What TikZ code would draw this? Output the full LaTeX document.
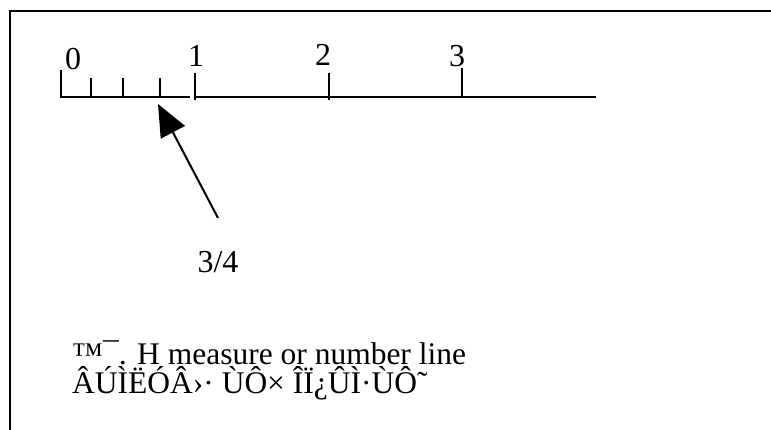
\documentclass[tikz,border=0pt]{standalone}
\usepackage{fontspec}
\setmainfont{Liberation Serif}
\usetikzlibrary{arrows.meta}
\begin{document}
\begin{tikzpicture}[x=1pt,y=-1pt,
  frame/.style={line width=2.2pt},
  axis/.style={line width=2pt},
  lbl/.style={anchor=base,inner sep=0pt,font=\fontsize{32}{32}\selectfont},
  txt/.style={anchor=base west,inner sep=0pt,font=\fontsize{31.5}{31.5}\selectfont}]
\useasboundingbox (0,0) rectangle (771,430);
\draw[frame] (10,430) -- (10,11) -- (771,11);
% axis
\coordinate (a0) at (60,97);
\coordinate (a1) at (190,97);
\coordinate (b0) at (195,97);
\coordinate (b1) at (596,97);
\draw[axis] (a0) -- (a1);
\draw[axis] (b0) -- (b1);
\draw[axis] (61,97) -- (61,70);
\draw[axis] (91,97) -- (91,78);
\draw[axis] (123,97) -- (123,78);
\draw[axis] (160,97) -- (160,78);
\draw[axis] (195,100) -- (195,73);
\draw[axis] (329,100) -- (329,73);
\draw[axis] (462,97) -- (462,68);
\node[lbl] (l0) at (73,70) {0};
\node[lbl] (l1) at (196,67) {1};
\node[lbl] (l2) at (323,66) {2};
\node[lbl] (l3) at (457,67) {3};
% arrow
\node[lbl] (frac) at (218,273) {3/4};
\coordinate (tail) at (218,218);
\coordinate (tip) at (158,104);
\draw[line width=2pt,-{Triangle[length=32pt,width=27pt]}] (tail) -- (tip);
\node[txt] (t1) at (72,364) {™¯. H measure or number line};
\node[txt] (t2) at (72,393) {ÂÚÌËÓÂ›· ÙÔ× ÎÏ¿ÛÌ·ÙÔ˜};
\end{tikzpicture}
\end{document}
